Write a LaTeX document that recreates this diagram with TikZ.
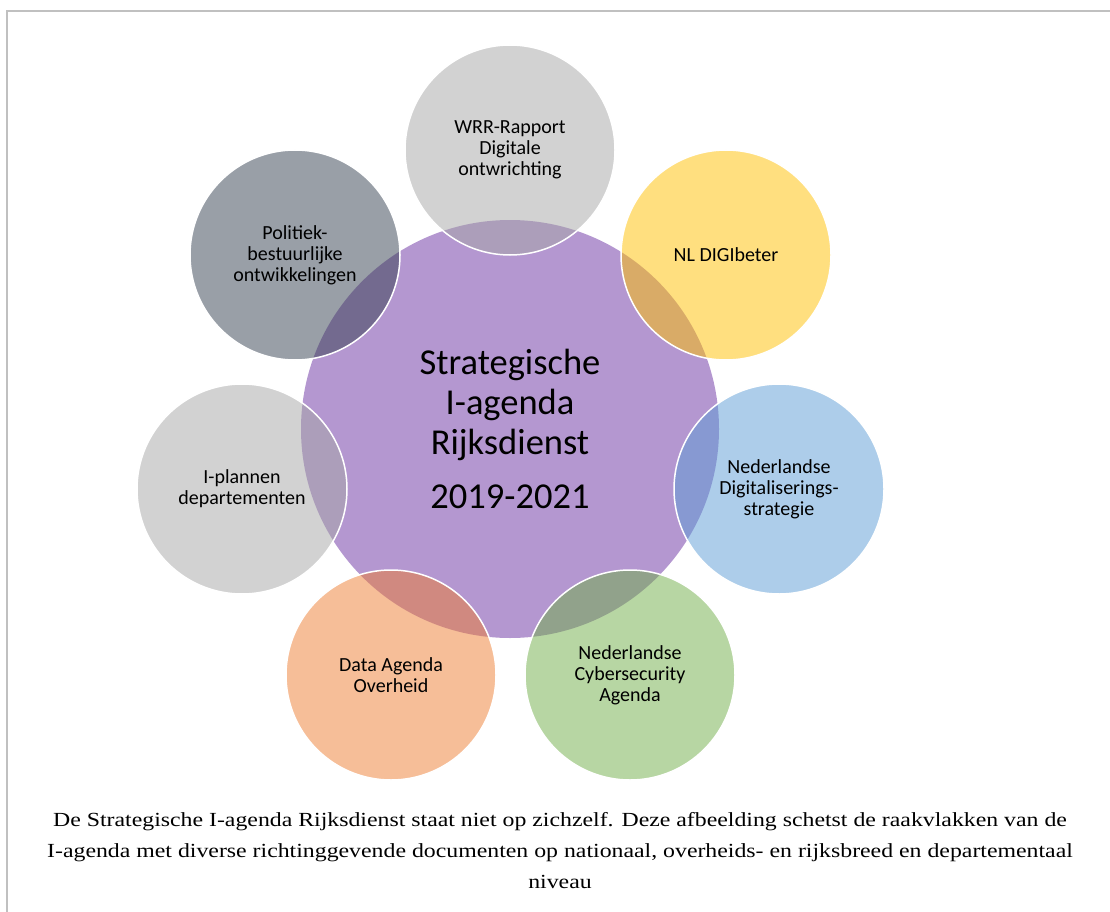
\documentclass[tikz,border=0pt]{standalone}
\usepackage{fontspec}
\setmainfont{Liberation Serif}
\newfontfamily\calibri{Carlito}
\usepackage{tikz}
\usepackage{xcolor}
\usepackage{graphicx}

\definecolor{agendapurple}{RGB}{180,151,208}
\definecolor{wrrgrey}{HTML}{A5A5A5}
\definecolor{digiyellow}{HTML}{FFC000}
\definecolor{nldsblue}{HTML}{5B9BD5}
\definecolor{cybergreen}{HTML}{70AD47}
\definecolor{dataorange}{HTML}{ED7D31}
\definecolor{polslate}{HTML}{333F50}
\definecolor{framegrey}{RGB}{192,192,192}

\begin{document}
\begin{tikzpicture}[x=1pt, y=-1pt,
  bubble/.style = {circle, minimum size=210pt, inner sep=0pt, draw=white, line width=1.5pt,
                   fill opacity=0.5, text opacity=1, align=center,
                   font=\calibri\fontsize{20}{21}\selectfont}]
\useasboundingbox (0,0) rectangle (1110,912);

\coordinate (fr_bl) at (7,912);
\coordinate (fr_tl) at (7,11);
\coordinate (fr_tr) at (1110,11);
\draw[framegrey, line width=2pt] (fr_bl)--(fr_tl)--(fr_tr);

\node[circle, minimum size=418pt, inner sep=0pt, fill=agendapurple, align=center,
      font=\calibri\fontsize{36.5}{40}\selectfont] (sia) at (510,429)
      {Strategische\\I-agenda\\Rijksdienst\\[14pt]2019-2021};

\node[bubble, fill=wrrgrey] (wrr) at (510,150) {WRR-Rapport\\Digitale\\ontwrichting};
\node[bubble, fill=digiyellow] (digi) at (726,255) {NL DIGIbeter};
\node[bubble, fill=nldsblue] (nlds) at (779,489) {Nederlandse\\Digitaliserings-\\strategie};
\node[bubble, fill=cybergreen] (ncsa) at (630,675) {Nederlandse\\Cybersecurity\\Agenda};
\node[bubble, fill=dataorange] (dao) at (391,675) {Data Agenda\\Overheid};
\node[bubble, fill=wrrgrey] (iplan) at (242,489) {I-plannen\\departementen};
\node[bubble, fill=polslate] (pol) at (295,255) {Politiek-\\bestuurlijke\\ontwikkelingen};

\node[inner sep=0pt, font=\fontsize{20}{31}\selectfont] (caption) at (560,851)
  {\scalebox{1.19}[1]{\begin{tabular}{@{}c@{}}
   De Strategische I-agenda Rijksdienst staat niet op zichzelf. Deze afbeelding schetst de raakvlakken van de\\
   I-agenda met diverse richtinggevende documenten op nationaal, overheids- en rijksbreed en departementaal\\
   niveau
   \end{tabular}}};
\end{tikzpicture}
\end{document}
